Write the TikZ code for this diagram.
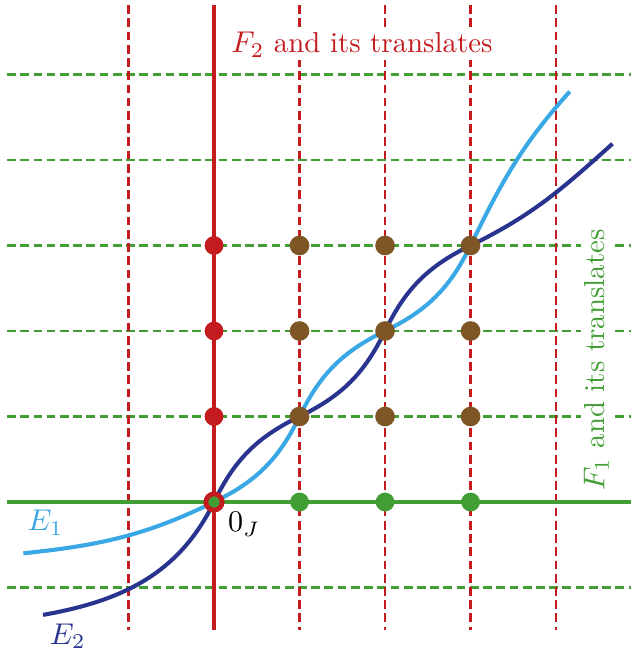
\documentclass[tikz,border=0pt]{standalone}
\begin{document}
\begin{tikzpicture}[x=1cm,y=1cm,
  font=\fontsize{9.6}{11.5}\selectfont,
  redline/.style={draw=cred},
  greenline/.style={draw=cgreen},
  dashpat/.style={dash pattern=on 2.9pt off 1.5pt, line width=0.95pt},
  curveA/.style={draw=clight, line width=1.35pt},
  curveB/.style={draw=cdark, line width=1.35pt},
  dotR/.style={circle, fill=cred, inner sep=0pt, minimum size=0.22cm},
  dotB/.style={circle, fill=cbrown, inner sep=0pt, minimum size=0.23cm},
  dotG/.style={circle, fill=cgreen, inner sep=0pt, minimum size=0.22cm},
  lbl/.style={inner sep=1pt}
]
\definecolor{cred}{RGB}{196,28,30}
\definecolor{cgreen}{RGB}{66,158,52}
\definecolor{clight}{RGB}{58,168,228}
\definecolor{cdark}{RGB}{40,52,142}
\definecolor{cbrown}{RGB}{126,86,38}
\useasboundingbox (-2.503,-1.754) rectangle (4.877,5.871);
% coordinates
\foreach \i in {-1,1,2,3,4} {
  \coordinate (vt\i) at (\i,5.81);
  \coordinate (vb\i) at (\i,-1.50);
}
\foreach \j in {-1,1,2,3,4,5} {
  \coordinate (hl\j) at (-2.42,\j);
  \coordinate (hr\j) at (4.877,\j);
}
\coordinate (vt0) at (0,5.81);
\coordinate (vb0) at (0,-1.50);
\coordinate (hl0) at (-2.42,0);
\coordinate (hr0) at (4.877,0);
% dashed translates
\foreach \j in {-1,1,2,3,4,5} \draw[greenline,dashpat] (hl\j) -- (hr\j);
\foreach \i in {-1,1,2,3,4} \draw[redline,dashpat] (vt\i) -- (vb\i);
% solid axes
\draw[greenline, line width=1.6pt] (hl0) -- (hr0);
\draw[redline, line width=1.6pt] (vt0) -- (vb0);
% labels with white background
\node[lbl, fill=white, text=cred] (f2) at (1.73,5.35) {$F_2$ and its translates};
\node[lbl, fill=white, text=cgreen, rotate=90] (f1) at (4.47,1.66) {$F_1$ and its translates};
% points
\coordinate (o) at (0,0);
\coordinate (p11) at (1,1);
\coordinate (p22) at (2,2);
\coordinate (p33) at (3,3);
\coordinate (a0) at (-2.23,-0.60);
\coordinate (a5) at (4.16,4.80);
\coordinate (b0) at (-2.0,-1.32);
\coordinate (b5) at (4.66,4.19);
% curves
\draw[curveA] (a0) to[out=6,in=206] (o) to[out=26,in=244] (p11) to[out=64,in=206] (p22) to[out=26,in=244] (p33) to[out=64,in=228] (a5);
\draw[curveB] (b0) to[out=10,in=244] (o) to[out=64,in=206] (p11) to[out=26,in=244] (p22) to[out=64,in=206] (p33) to[out=26,in=222] (b5);
% dots
\foreach \j in {1,2,3} \node[dotR] (r\j) at (0,\j) {};
\foreach \i in {1,2,3} \node[dotG] (g\i) at (\i,0) {};
\foreach \i in {1,2,3} \foreach \j in {1,2,3} \node[dotB] (b\i\j) at (\i,\j) {};
\node[circle, fill=cgreen, draw=cred, line width=1.6pt, inner sep=0pt, minimum size=0.19cm] (orig) at (o) {};
% text labels
\node[lbl, text=clight] (e1) at (-1.97,-0.24) {$E_1$};
\node[lbl, text=cdark] (e2) at (-1.71,-1.57) {$E_2$};
\node[lbl] (zj) at (0.35,-0.26) {$0_J$};
\end{tikzpicture}
\end{document}
